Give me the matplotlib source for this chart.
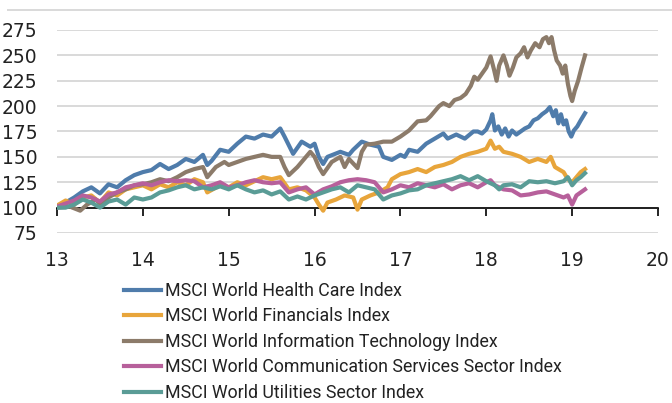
import matplotlib

matplotlib.use("Agg")
import matplotlib.pyplot as plt
from matplotlib.lines import Line2D

# ---------------------------------------------------------------- data
# x in years (13 = 2013), values indexed to 100
hc_x = [13.0, 13.1, 13.2, 13.3, 13.4, 13.5, 13.6, 13.7, 13.8, 13.9, 14.0, 14.1, 14.2, 14.3,
        14.4, 14.5, 14.6, 14.7, 14.75, 14.8, 14.9, 15.0, 15.1, 15.2, 15.3, 15.4, 15.5, 15.6,
        15.65, 15.75, 15.85, 15.95, 16.0, 16.05, 16.1, 16.15, 16.3, 16.4, 16.45, 16.55, 16.65,
        16.75, 16.8, 16.9, 17.0, 17.05, 17.1, 17.2, 17.3, 17.4, 17.5, 17.55, 17.65, 17.75,
        17.85, 17.9, 17.95, 18.0, 18.05, 18.07, 18.1, 18.14, 18.18, 18.22, 18.26, 18.3, 18.35,
        18.4, 18.45, 18.5, 18.55, 18.6, 18.65, 18.7, 18.74, 18.78, 18.81, 18.84, 18.87, 18.9,
        18.93, 18.96, 18.99, 19.02, 19.06, 19.1, 19.15]
hc_y = [100, 105, 110, 116, 120, 114, 123, 120, 127, 132, 135, 137, 143, 138,
        142, 148, 145, 152, 142, 146, 157, 155, 163, 170, 168, 172, 170, 178,
        170, 153, 165, 160, 163, 150, 143, 150, 155, 152, 157, 165, 162,
        160, 150, 147, 152, 150, 157, 155, 163, 168, 173, 168, 172, 168,
        175, 175, 173, 177, 186, 192, 176, 180, 172, 178, 170, 176, 172,
        175, 178, 180, 186, 188, 192, 195, 199, 190, 196, 183, 192, 182,
        186, 175, 170, 176, 180, 186, 193]

fin_x = [13.0, 13.1, 13.2, 13.3, 13.4, 13.5, 13.6, 13.7, 13.8, 13.9, 14.0, 14.1, 14.2, 14.3,
         14.4, 14.5, 14.6, 14.7, 14.75, 14.9, 15.0, 15.1, 15.2, 15.3, 15.4, 15.5, 15.6, 15.7,
         15.8, 15.9, 16.0, 16.05, 16.1, 16.15, 16.25, 16.35, 16.45, 16.5, 16.55, 16.65, 16.75,
         16.85, 16.9, 17.0, 17.1, 17.2, 17.3, 17.4, 17.5, 17.6, 17.7, 17.8, 17.9, 18.0, 18.05,
         18.1, 18.15, 18.2, 18.3, 18.4, 18.5, 18.6, 18.7, 18.75, 18.8, 18.9, 18.95, 19.0,
         19.05, 19.1, 19.15]
fin_y = [102, 107, 103, 110, 112, 105, 115, 112, 118, 120, 122, 118, 123, 120,
         125, 122, 128, 125, 115, 122, 120, 125, 122, 126, 130, 128, 130, 118,
         120, 117, 110, 103, 97, 105, 108, 112, 110, 98, 108, 112, 115,
         120, 128, 133, 135, 138, 135, 140, 142, 145, 150, 153, 155, 158, 166,
         158, 160, 155, 153, 150, 145, 148, 145, 150, 140, 135, 128, 125,
         130, 135, 138]

it_x = [13.0, 13.15, 13.27, 13.35, 13.45, 13.5, 13.6, 13.7, 13.8, 13.9, 14.0, 14.1, 14.2,
        14.3, 14.4, 14.5, 14.6, 14.7, 14.75, 14.85, 14.95, 15.0, 15.1, 15.2, 15.3, 15.4, 15.5,
        15.6, 15.65, 15.7, 15.8, 15.9, 15.95, 16.0, 16.05, 16.1, 16.2, 16.3, 16.35, 16.4,
        16.5, 16.55, 16.6, 16.7, 16.8, 16.9, 17.0, 17.1, 17.2, 17.3, 17.35, 17.45, 17.5,
        17.57, 17.63, 17.7, 17.76, 17.82, 17.86, 17.9, 17.95, 18.0, 18.05, 18.09, 18.12,
        18.15, 18.2, 18.24, 18.27, 18.31, 18.35, 18.4, 18.44, 18.48, 18.52, 18.57, 18.62,
        18.66, 18.7, 18.73, 18.76, 18.79, 18.82, 18.86, 18.89, 18.92, 18.95, 18.98, 19.0,
        19.03, 19.07, 19.11, 19.15]
it_y = [100, 101, 97, 103, 108, 104, 110, 115, 118, 122, 123, 125, 128,
        126, 130, 135, 138, 140, 130, 140, 145, 142, 145, 148, 150, 152, 150,
        150, 140, 132, 140, 150, 155, 150, 140, 133, 145, 150, 140, 148,
        139, 155, 162, 163, 165, 165, 170, 176, 185, 186, 190, 200, 203,
        200, 206, 208, 212, 220, 229, 226, 232, 238, 249, 236, 225,
        240, 250, 240, 230, 238, 248, 252, 258, 248, 255, 262, 258,
        266, 268, 262, 268, 255, 245, 240, 232, 240, 222, 210, 205,
        215, 225, 238, 250]

com_x = [13.0, 13.1, 13.2, 13.3, 13.4, 13.5, 13.6, 13.7, 13.8, 13.9, 14.0, 14.1, 14.2, 14.3,
         14.4, 14.5, 14.6, 14.7, 14.8, 14.9, 15.0, 15.1, 15.2, 15.3, 15.4, 15.5, 15.6, 15.7,
         15.8, 15.9, 16.0, 16.1, 16.2, 16.3, 16.4, 16.5, 16.6, 16.7, 16.8, 16.9, 17.0, 17.1,
         17.2, 17.3, 17.4, 17.5, 17.6, 17.7, 17.8, 17.9, 18.0, 18.05, 18.1, 18.2, 18.3, 18.4,
         18.5, 18.6, 18.7, 18.8, 18.9, 18.95, 19.0, 19.05, 19.1, 19.15]
com_y = [101, 104, 107, 112, 110, 106, 113, 115, 120, 122, 124, 122, 125, 127,
         126, 127, 126, 120, 122, 125, 120, 122, 125, 127, 125, 124, 125, 115,
         118, 120, 113, 118, 121, 125, 127, 128, 127, 125, 115, 118, 122, 120,
         124, 122, 120, 123, 118, 122, 124, 120, 125, 127, 122, 118, 117, 112,
         113, 115, 116, 113, 110, 112, 103, 112, 115, 118]

utl_x = [13.0, 13.1, 13.2, 13.3, 13.4, 13.5, 13.6, 13.7, 13.8, 13.9, 14.0, 14.1, 14.2, 14.3,
         14.4, 14.5, 14.6, 14.7, 14.8, 14.9, 15.0, 15.1, 15.2, 15.3, 15.4, 15.5, 15.6, 15.7,
         15.8, 15.9, 16.0, 16.1, 16.2, 16.3, 16.4, 16.5, 16.6, 16.7, 16.8, 16.9, 17.0, 17.1,
         17.2, 17.3, 17.4, 17.5, 17.6, 17.7, 17.8, 17.9, 18.0, 18.1, 18.15, 18.2, 18.3, 18.4,
         18.5, 18.6, 18.7, 18.8, 18.9, 18.95, 19.0, 19.05, 19.1, 19.15]
utl_y = [100, 100, 103, 108, 105, 100, 106, 108, 103, 110, 108, 110, 115, 117,
         120, 122, 118, 120, 118, 121, 118, 122, 118, 115, 117, 113, 116, 108,
         111, 108, 112, 115, 118, 120, 115, 122, 120, 118, 108, 112, 114, 117,
         118, 122, 124, 126, 128, 131, 127, 131, 126, 122, 118, 122, 123, 120,
         126, 125, 126, 124, 126, 130, 122, 127, 130, 134]

labels = [
    "MSCI World Health Care Index",
    "MSCI World Financials Index",
    "MSCI World Information Technology Index",
    "MSCI World Communication Services Sector Index",
    "MSCI World Utilities Sector Index",
]
colors = ["#4f7cab", "#e8a53b", "#8c7b6a", "#b7609b", "#5a9c96"]
series = [(hc_x, hc_y), (fin_x, fin_y), (it_x, it_y), (com_x, com_y), (utl_x, utl_y)]

years = [13, 14, 15, 16, 17, 18, 19, 20]
yticks = [75, 100, 125, 150, 175, 200, 225, 250, 275]

# ---------------------------------------------------------------- figure
W, H = 672, 403
fig = plt.figure(figsize=(W / 100, H / 100), dpi=100)
ax = fig.add_axes([57 / W, 1 - 233 / H, (658 - 57) / W, (233 - 30) / H])

for (x, y), c, lab in zip(series, colors, labels):
    ax.plot(x, y, color=c, linewidth=3.0, label=lab, solid_joinstyle="round")

ax.set_xlim(13, 20)
ax.set_ylim(75, 275)
ax.set_xticks(years)
ax.set_xticklabels([str(v) for v in years])
ax.set_yticks(yticks)
ax.set_yticklabels([str(v) for v in yticks])

for s in ("top", "right", "left"):
    ax.spines[s].set_visible(False)
ax.spines["bottom"].set_position(("data", 100))
ax.spines["bottom"].set_linewidth(1.2)
ax.spines["bottom"].set_zorder(1)

tick_font = "Liberation Sans Narrow"
ax.tick_params(axis="x", direction="out", length=6, width=1.2, pad=25,
               labelsize=13.5)
ax.tick_params(axis="y", length=0, pad=14, labelsize=13.5)
for t in ax.get_xticklabels() + ax.get_yticklabels():
    t.set_fontfamily(tick_font)
    t.set_color("#222222")

ax.grid(axis="y", color="#d9d9d9", linewidth=1.4)
ax.set_axisbelow(True)

# thin rule at the top of the chart
fig.add_artist(Line2D([8 / W, 1.0], [1 - 10 / H, 1 - 10 / H], color="#d9d9d9",
                      linewidth=1.4))

handles, labs = ax.get_legend_handles_labels()
leg = fig.legend(handles, labs, loc="upper left",
                 bbox_to_anchor=(124 / W, 1 - 282 / H),
                 frameon=False, prop={"family": "Roboto", "size": 12.8},
                 handlelength=2.1, handletextpad=0.2, labelspacing=0.42,
                 borderaxespad=0, borderpad=0)
for t in leg.get_texts():
    t.set_color("#222222")

fig.savefig("out.png", dpi=100)
